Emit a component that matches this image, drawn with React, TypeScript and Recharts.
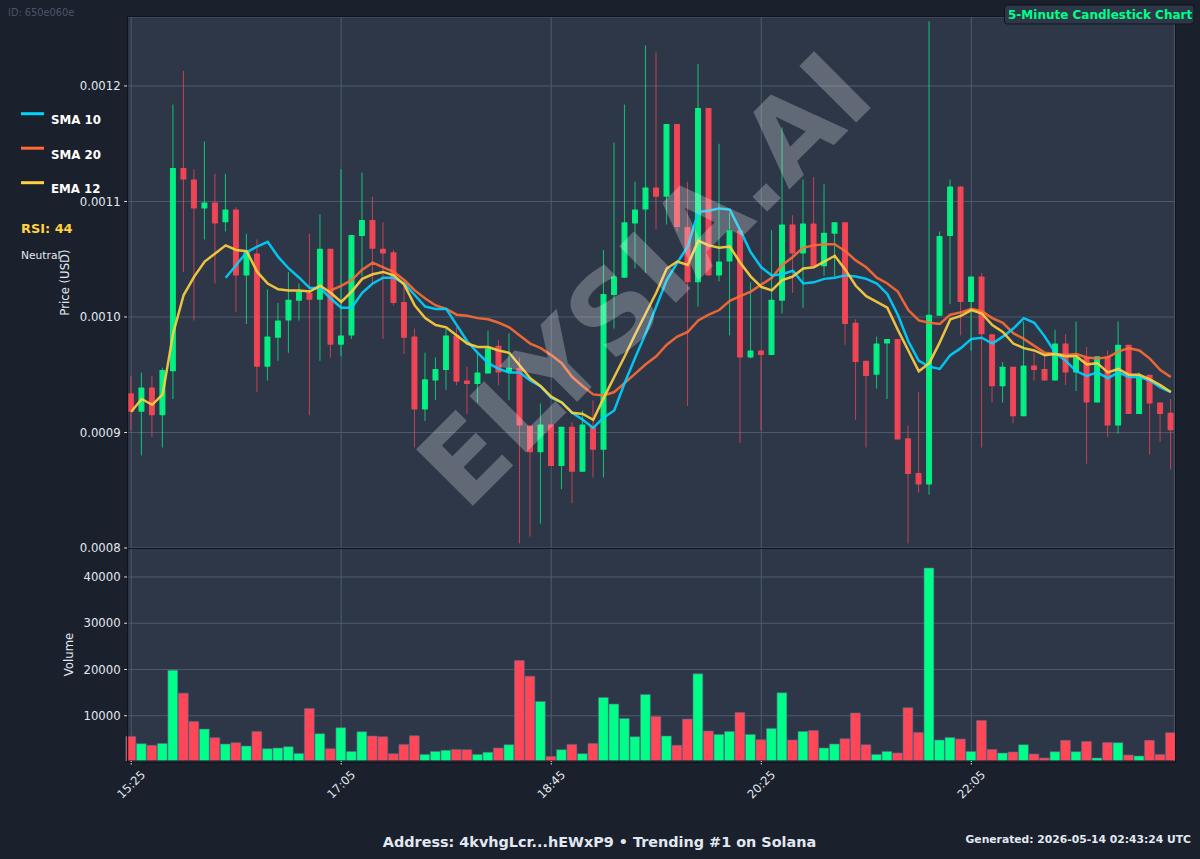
import React from "react";
import {
  Bar,
  CartesianGrid,
  Cell,
  ComposedChart,
  Label,
  Line,
  XAxis,
  YAxis,
} from "recharts";

// all prices are in millionths of a USD
const open = [
  934, 918, 939, 915, 953, 1129, 1119, 1094, 1099, 1082,
  1093, 1036, 1055, 957, 982, 997, 1014, 1021, 1015, 1059,
  976, 984, 1070, 1084, 1059, 1056, 1013, 983, 920, 945,
  954, 984, 945, 942, 951, 975, 952, 956, 906, 883,
  907, 871, 905, 866, 905, 885, 1019, 1034, 1081, 1093,
  1112, 1104, 1167, 1078, 1030, 1181, 1036, 1048, 1075, 965,
  971, 967, 1014, 1080, 1055, 1081, 1044, 1072, 1082, 995,
  962, 950, 977, 981, 895, 865, 855, 1001, 1070, 1113,
  1013, 1035, 985, 940, 957, 914, 958, 955, 945, 977,
  952, 965, 926, 966, 906, 976, 916, 950, 926, 917,
];
const close = [
  918, 939, 915, 954, 1129, 1119, 1094, 1099, 1081, 1093,
  1036, 1056, 957, 983, 997, 1015, 1022, 1015, 1059, 976,
  984, 1071, 1084, 1059, 1055, 1012, 982, 920, 946, 955,
  984, 944, 942, 952, 973, 952, 956, 906, 883, 907,
  871, 905, 866, 907, 885, 1020, 1035, 1082, 1093, 1112,
  1104, 1167, 1078, 1030, 1181, 1036, 1048, 1075, 965, 971,
  967, 1015, 1080, 1055, 1081, 1044, 1073, 1082, 994, 961,
  949, 977, 981, 894, 864, 855, 1002, 1070, 1113, 1013,
  1035, 985, 940, 957, 914, 958, 954, 945, 977, 952,
  965, 926, 966, 906, 976, 916, 949, 925, 916, 902,
];
const high = [
  949, 952, 949, 956, 1184, 1213, 1128, 1152, 1124, 1124,
  1095, 1072, 1067, 1024, 1012, 1039, 1029, 1072, 1089, 1059,
  1128, 1071, 1125, 1104, 1082, 1058, 1032, 990, 969, 965,
  990, 991, 957, 969, 988, 980, 986, 965, 906, 925,
  907, 905, 909, 919, 928, 1058, 1151, 1184, 1117, 1235,
  1229, 1167, 1167, 1117, 1219, 1181, 1150, 1090, 1075, 1030,
  971, 1075, 1164, 1088, 1119, 1121, 1115, 1082, 1082, 998,
  962, 983, 981, 981, 906, 935, 1256, 1074, 1119, 1113,
  1035, 1038, 985, 961, 957, 996, 969, 966, 989, 985,
  996, 974, 966, 971, 996, 976, 952, 950, 926, 929,
];
const low = [
  902, 880, 896, 887, 929, 1039, 997, 1067, 1029, 1074,
  1004, 994, 935, 945, 962, 969, 997, 915, 962, 965,
  966, 981, 1035, 1029, 981, 1010, 968, 887, 910, 928,
  937, 941, 916, 926, 951, 941, 928, 804, 810, 821,
  871, 851, 839, 866, 861, 861, 990, 1034, 1042, 1038,
  1076, 1080, 1074, 923, 1009, 1036, 1031, 984, 891, 964,
  902, 967, 1003, 1021, 1008, 1044, 1036, 1035, 976, 911,
  887, 938, 929, 894, 804, 848, 846, 1001, 1011, 984,
  971, 887, 926, 926, 908, 914, 945, 945, 945, 941,
  936, 873, 926, 896, 899, 916, 916, 881, 892, 868,
];
const volume = [
  5540, 3960, 3600, 4030, 19860, 14890, 8780, 7120, 5250, 3880,
  4170, 3450, 6620, 2880, 3020, 3310, 1870, 11580, 6120, 2880,
  7410, 2300, 6550, 5610, 5470, 1800, 3810, 5680, 1650, 2300,
  2520, 2730, 2660, 1650, 2090, 3020, 3740, 21940, 18560, 13090,
  1220, 2660, 3810, 1800, 4030, 13960, 12520, 9420, 5470, 14600,
  9860, 5610, 3600, 9280, 19060, 6690, 5970, 6620, 10720, 5970,
  4820, 7270, 14960, 4750, 6620, 6830, 3020, 3880, 5040, 10580,
  3740, 1650, 2300, 1940, 11730, 6400, 41940, 4750, 5320, 4960,
  2300, 8990, 2730, 1940, 2160, 3740, 1730, 860, 2230, 4680,
  2230, 4460, 860, 4240, 4170, 1510, 1290, 4680, 1650, 6330,
];
const sma10 = [
  null, null, null, null, null, null, null, null, null, 1034,
  1045, 1056, 1061, 1065, 1052, 1042, 1034, 1025, 1025, 1016,
  1008, 1008, 1021, 1029, 1034, 1034, 1029, 1019, 1009, 1007,
  1007, 993, 979, 969, 960, 955, 952, 952, 945, 940,
  930, 926, 917, 911, 904, 913, 919, 943, 965, 986,
  1009, 1032, 1047, 1061, 1091, 1092, 1094, 1093, 1075, 1056,
  1043, 1036, 1037, 1040, 1029, 1030, 1033, 1034, 1036, 1035,
  1033, 1029, 1020, 1002, 979, 962, 957, 955, 967, 973,
  981, 982, 977, 983, 990, 999, 995, 983, 969, 962,
  953, 949, 952, 947, 952, 948, 948, 945, 939, 935,
];
const sma20 = [
  null, null, null, null, null, null, null, null, null, null,
  null, null, null, null, null, null, null, null, null, 1023,
  1027, 1032, 1041, 1047, 1043, 1039, 1032, 1023, 1016, 1010,
  1007, 1002, 1001, 999, 998, 995, 991, 984, 977, 973,
  967, 960, 948, 940, 933, 932, 935, 943, 951, 959,
  966, 976, 983, 987, 997, 1002, 1006, 1014, 1018, 1022,
  1028, 1034, 1045, 1052, 1060, 1062, 1063, 1063, 1057, 1049,
  1043, 1034, 1029, 1022, 1006, 997, 995, 994, 1002, 1004,
  1007, 1005, 999, 995, 986, 981, 975, 969, 968, 967,
  968, 965, 964, 965, 970, 973, 971, 964, 954, 948,
];
const ema12 = [
  918, 929, 924, 933, 986, 1019, 1035, 1048, 1055, 1062,
  1058, 1057, 1039, 1029, 1024, 1023, 1023, 1022, 1027, 1021,
  1013, 1022, 1033, 1037, 1039, 1036, 1028, 1010, 999, 993,
  991, 984, 977, 974, 974, 971, 969, 958, 947, 940,
  931, 926, 917, 916, 911, 930, 948, 966, 985, 1003,
  1021, 1042, 1048, 1045, 1066, 1062, 1060, 1061, 1047, 1035,
  1026, 1023, 1032, 1035, 1042, 1043, 1048, 1053, 1041, 1027,
  1018, 1013, 1008, 989, 971, 953, 960, 978, 998, 1001,
  1006, 1003, 993, 987, 977, 973, 971, 967, 968, 966,
  966, 959, 960, 952, 955, 950, 950, 946, 941, 935,
];

const tickIndexes = [0, 20, 40, 60, 80];
const tickLabels = ["15:25", "17:05", "18:45", "20:25", "22:05"];
const priceTicks = [800, 900, 1000, 1100, 1200];
const volumeTicks = [10000, 20000, 30000, 40000];
const legendNames = ["SMA 10", "SMA 20", "EMA 12"];

const GREEN = "#00ff88";
const RED = "#ff4757";
const BLUE = "#00d4ff";
const ORANGE = "#ff6b35";
const YELLOW = "#ffd23f";
const PANEL = "#2d3748";
const PAGE = "#1a202c";
const GRID = "#4f5a6e";
const TEXT = "#e2e8f0";
const FONT = "'DejaVu Sans', sans-serif";

const rows = open.map((o, i) => ({
  index: i,
  open: o,
  close: close[i],
  high: high[i],
  low: low[i],
  range: [low[i], high[i]],
  volume: volume[i],
  sma10: sma10[i],
  sma20: sma20[i],
  ema12: ema12[i],
}));

// draws wick + body inside the low..high box that the Bar hands over
const Candle = (props: any) => {
  const { x, y, width, height, payload } = props;
  const { open: o, close: c, high: h, low: l } = payload;
  const perUnit = height / (h - l);
  const top = y + (h - Math.max(o, c)) * perUnit;
  const bodyH = Math.max(Math.abs(o - c) * perUnit, 1);
  const color = c >= o ? GREEN : RED;
  const mid = x + width / 2;
  return (
    <g>
      <line x1={mid} x2={mid} y1={y} y2={y + height} stroke={color} strokeWidth={1.1} strokeOpacity={0.65} />
      <rect x={x} y={top} width={width} height={bodyH} fill={color} fillOpacity={0.9} rx={0.6} />
    </g>
  );
};

const TimeTick = (props: any) => {
  const { x, y, payload } = props;
  const label = tickLabels[tickIndexes.indexOf(payload.value)];
  const cy = y + 18;
  return (
    <text
      x={x}
      y={cy + 4}
      textAnchor="middle"
      fontSize={11.7}
      fontFamily={FONT}
      fill={TEXT}
      transform={`rotate(-45 ${x} ${cy})`}
    >
      {label}
    </text>
  );
};

const tickStyle = { fontSize: 11.7, fontFamily: FONT, fill: TEXT };

const App = () => {
  return (
    <div
      style={{
        position: "absolute",
        left: 0,
        top: 0,
        width: 1200,
        height: 859,
        background: PAGE,
        overflow: "hidden",
        fontFamily: FONT,
      }}
    >
      <div style={{ position: "absolute", left: 0, top: 0, zIndex: 1 }}>
        <ComposedChart
          width={1200}
          height={560}
          data={rows}
          margin={{ top: 17, right: 25.7, bottom: 12, left: 47.7 }}
        >
          <CartesianGrid fill={PANEL} stroke={GRID} strokeWidth={1} />
          <XAxis
            dataKey="index"
            type="number"
            domain={[-0.33, 99.33]}
            ticks={tickIndexes}
            interval={0}
            height={0}
            tickFormatter={() => ""}
            axisLine={false}
            tickLine={false}
          />
          <YAxis
            type="number"
            width={80}
            domain={[800, 1259.7]}
            allowDataOverflow
            ticks={priceTicks}
            interval={0}
            tickFormatter={(v: number) => (v / 1e6).toFixed(4)}
            tick={tickStyle}
            tickSize={3.5}
            tickMargin={3.5}
            tickLine={{ stroke: TEXT }}
            axisLine={{ stroke: "#10141c" }}
          >
            <Label
              value="Price (USD)"
              angle={-90}
              position="insideLeft"
              offset={17}
              textAnchor="middle"
              style={{ fontSize: 11.7, fontFamily: FONT, fill: TEXT }}
            />
          </YAxis>
          <Bar dataKey="range" barSize={6} shape={Candle} isAnimationActive={false} />
          <Line dataKey="sma20" stroke={ORANGE} strokeWidth={2.5} strokeOpacity={0.9} dot={false} type="linear" isAnimationActive={false} />
          <Line dataKey="sma10" stroke={BLUE} strokeWidth={2.5} strokeOpacity={0.9} dot={false} type="linear" isAnimationActive={false} />
          <Line dataKey="ema12" stroke={YELLOW} strokeWidth={2.5} strokeOpacity={0.9} dot={false} type="linear" isAnimationActive={false} />
        </ComposedChart>
      </div>

      <div style={{ position: "absolute", left: 0, top: 548 }}>
        <ComposedChart
          width={1200}
          height={311}
          data={rows}
          margin={{ top: 0, right: 25.7, bottom: 0, left: 47.7 }}
        >
          <CartesianGrid fill={PANEL} stroke={GRID} strokeWidth={1} />
          <XAxis
            dataKey="index"
            type="number"
            domain={[-0.33, 99.33]}
            ticks={tickIndexes}
            interval={0}
            height={98}
            tick={TimeTick}
            tickSize={3.5}
            tickLine={{ stroke: TEXT }}
            axisLine={{ stroke: "#10141c" }}
          />
          <YAxis
            type="number"
            width={80}
            domain={[222, 46260]}
            allowDataOverflow
            ticks={volumeTicks}
            interval={0}
            tick={tickStyle}
            tickSize={3.5}
            tickMargin={3.5}
            tickLine={{ stroke: TEXT }}
            axisLine={{ stroke: "#10141c" }}
          >
            <Label
              value="Volume"
              angle={-90}
              position="insideLeft"
              offset={21}
              textAnchor="middle"
              style={{ fontSize: 11.7, fontFamily: FONT, fill: TEXT }}
            />
          </YAxis>
          <Bar dataKey="volume" barSize={9.8} stroke="#5a6b8c" strokeWidth={0.6} isAnimationActive={false}>
            {rows.map((r) => (
              <Cell key={r.index} fill={r.close >= r.open ? GREEN : RED} />
            ))}
          </Bar>
        </ComposedChart>
      </div>

      {/* frame around both panels and the split between them */}
      <div style={{ position: "absolute", zIndex: 2, left: 127, top: 16, width: 1047, height: 745, border: "1px solid #10141c", boxSizing: "content-box", pointerEvents: "none" }} />
      <div style={{ position: "absolute", zIndex: 2, left: 127, top: 548, width: 1047, height: 1, background: "#10141c" }} />

      <svg width={1200} height={859} style={{ position: "absolute", zIndex: 3, left: 0, top: 0, pointerEvents: "none" }}>
        <text
          x={645}
          y={280}
          textAnchor="middle"
          dominantBaseline="central"
          fontSize={110}
          fontWeight="bold"
          fontFamily={FONT}
          fill="#ffffff"
          fillOpacity={0.25}
          transform="rotate(-45 645 280)"
        >
          ELYSIA.AI
        </text>

        <text x={8} y={16} fontSize={9.8} fontFamily={FONT} fill="#4a5568">
          ID: 650e060e
        </text>

        {legendNames.map((name, i) => (
          <g key={name}>
            <line x1={21} x2={44} y1={113.7 + i * 34.5} y2={113.7 + i * 34.5} stroke={[BLUE, ORANGE, YELLOW][i]} strokeWidth={3} />
            <text x={51} y={124 + i * 34.5} fontSize={11.8} fontWeight="bold" fontFamily={FONT} fill="#ffffff">
              {name}
            </text>
          </g>
        ))}
        <text x={21} y={233} fontSize={12.9} fontWeight="bold" fontFamily={FONT} fill={YELLOW}>
          RSI: 44
        </text>
        <text x={21} y={259} fontSize={10.7} fontFamily={FONT} fill={TEXT}>
          Neutral
        </text>

        <rect x={1004.5} y={5} width={189.5} height={19} rx={3} fill={PANEL} stroke="#10141c" />
        <text x={1008} y={19} fontSize={12} fontWeight="bold" fontFamily={FONT} fill={GREEN}>
          5-Minute Candlestick Chart
        </text>

        <text x={599.5} y={847} textAnchor="middle" fontSize={14.4} fontWeight="bold" fontFamily={FONT} fill={TEXT}>
          Address: 4kvhgLcr...hEWxP9 • Trending #1 on Solana
        </text>
        <text x={1191} y={843} textAnchor="end" fontSize={10.75} fontWeight="bold" fontFamily={FONT} fill={TEXT}>
          Generated: 2026-05-14 02:43:24 UTC
        </text>
      </svg>
    </div>
  );
};

export default App;
